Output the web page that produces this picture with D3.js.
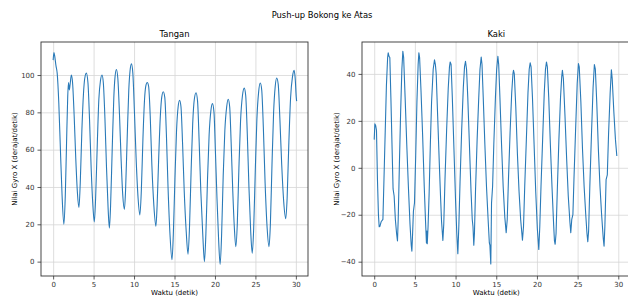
<!DOCTYPE html>
<html>
<head>
	<meta charset="utf-8">
	<title>Push-up Bokong ke Atas</title>
	<script src="https://cdn.jsdelivr.net/npm/d3@7"></script>
	<style>
		body{ margin: 0; background: #fff; }
		svg{ display: block; font-family: "DejaVu Sans", sans-serif; }
		.grid line{ stroke: #d6d6d6; stroke-width: 0.8; }
		.grid path{ display: none; }
		.axis path{ display: none; }
		.axis line{ stroke: #333; stroke-width: 0.8; }
		.axis text{ font-size: 7px; fill: #333; font-family: "DejaVu Sans", sans-serif; }
	</style>
</head>
<body>
	<script>
		// data: [waktu (detik), nilai gyro X]
		var tangan = [
			[0.0,108],[0.1,112],[0.2,110],[0.35,105],[0.5,101],[0.7,85],[0.9,60],[1.1,36],[1.33,20],
			[1.5,35],[1.65,62],[1.8,88],[1.9,96],[2.0,92],[2.1,95],[2.25,100],[2.4,96],[2.6,78],[2.8,55],[3.0,37],[3.19,29],
			[3.35,42],[3.55,70],[3.75,90],[3.9,98],[4.1,101],[4.3,96],[4.5,76],[4.7,50],[4.9,31],[5.09,21.3],
			[5.25,34],[5.45,62],[5.65,87],[5.85,97],[6.04,100],[6.2,96],[6.4,77],[6.6,50],[6.8,28],[6.95,18],
			[7.1,30],[7.3,60],[7.5,88],[7.65,99],[7.82,103],[8.0,98],[8.2,79],[8.4,55],[8.6,36],[8.81,28],
			[8.95,38],[9.15,66],[9.35,92],[9.5,102],[9.68,106],[9.85,101],[10.05,80],[10.25,56],[10.5,34],[10.72,25],
			[10.9,38],[11.1,66],[11.3,87],[11.45,94],[11.63,96],[11.8,94],[12.0,78],[12.2,52],[12.45,30],[12.7,19],
			[12.85,30],[13.05,56],[13.25,78],[13.42,88],[13.61,91],[13.8,88],[14.0,68],[14.2,40],[14.45,14],[14.69,1],
			[14.85,14],[15.05,44],[15.25,70],[15.45,83],[15.63,86.5],[15.8,83],[16.0,63],[16.2,38],[16.45,16],[16.67,4],
			[16.85,18],[17.05,48],[17.25,74],[17.45,87],[17.66,90.5],[17.85,86],[18.05,64],[18.25,38],[18.5,14],[18.7,0],
			[18.88,15],[19.08,44],[19.28,68],[19.5,81],[19.69,84.7],[19.88,80],[20.05,60],[20.25,34],[20.45,12],[20.64,-1.5],
			[20.82,14],[21.02,46],[21.22,70],[21.45,83],[21.64,87],[21.82,83],[22.0,64],[22.2,38],[22.4,18],[22.58,8],
			[22.76,20],[22.96,50],[23.16,75],[23.4,89],[23.62,93],[23.8,89],[24.0,68],[24.2,40],[24.42,16],[24.61,4.5],
			[24.78,17],[24.98,48],[25.18,76],[25.4,91],[25.6,95.7],[25.78,92],[25.98,72],[26.2,42],[26.45,18],[26.68,8],
			[26.85,20],[27.05,52],[27.25,80],[27.45,94],[27.63,98.4],[27.82,95],[28.02,77],[28.25,52],[28.5,32],[28.75,23],
			[28.92,34],[29.12,62],[29.35,88],[29.58,99],[29.78,102.5],[29.92,98],[30.05,88],[30.1,86]
		]
		var kaki = [
			[0.0,12],[0.08,18.7],[0.18,18],[0.28,16],[0.4,-5],[0.52,-20],[0.61,-25.1],[0.7,-25],[0.85,-23],[1.07,-22],
			[1.2,-5],[1.35,15],[1.5,35],[1.65,47],[1.72,49],[1.82,47.5],[1.92,47],[2.05,30],[2.2,8],[2.32,-9],[2.45,-12],
			[2.6,-22],[2.75,-28],[2.86,-31.2],[2.95,-22],[3.1,2],[3.25,24],[3.4,42],[3.52,49.6],[3.62,47],[3.8,30],
			[4.0,10],[4.2,-8],[4.4,-24],[4.55,-33],[4.63,-35.5],[4.72,-28],[4.82,-18.5],[4.95,-15],[5.1,5],[5.25,28],
			[5.4,44],[5.49,49],[5.58,47],[5.75,33],[5.95,14],[6.15,-8],[6.3,-22],[6.42,-32],[6.47,-27],[6.52,-32.3],
			[6.62,-25],[6.75,-11],[6.9,10],[7.05,28],[7.25,42],[7.41,46],[7.52,44],[7.62,40],[7.8,22],[8.0,2],
			[8.15,-12],[8.28,-23],[8.38,-28],[8.44,-31],[8.55,-24],[8.7,-5],[8.9,16],[9.1,34],[9.25,43],[9.34,45.1],
			[9.45,44],[9.6,30],[9.8,8],[10.0,-14],[10.15,-28],[10.28,-36.6],[10.4,-25],[10.55,-6],[10.75,16],[10.95,34],
			[11.1,43],[11.22,45.4],[11.35,42],[11.5,30],[11.7,10],[11.9,-10],[12.05,-22],[12.14,-25],[12.24,-33],[12.32,-28],
			[12.45,-10],[12.65,12],[12.85,30],[13.0,42],[13.15,47.2],[13.25,44],[13.4,30],[13.6,10],[13.8,-8],[14.0,-22],
			[14.15,-32],[14.22,-33],[14.33,-41],[14.42,-15],[14.55,-8],[14.7,10],[14.9,30],[15.05,42],[15.2,47.5],[15.3,44],
			[15.45,30],[15.65,10],[15.85,-8],[16.05,-21],[16.22,-27.7],[16.35,-22],[16.5,-5],[16.7,15],[16.9,32],[17.05,40],
			[17.12,41.5],[17.22,40],[17.4,26],[17.6,6],[17.8,-10],[18.0,-22],[18.15,-28],[18.22,-30.8],[18.35,-25],[18.5,-8],
			[18.7,12],[18.9,32],[19.05,42],[19.17,44.7],[19.28,43],[19.45,30],[19.65,10],[19.85,-10],[20.05,-26],[20.23,-34.8],
			[20.35,-25],[20.5,-8],[20.7,12],[20.9,32],[21.05,42],[21.17,45.1],[21.28,43],[21.45,30],[21.65,10],[21.85,-8],
			[22.05,-24],[22.15,-31],[22.24,-32.6],[22.35,-28],[22.5,-10],[22.7,12],[22.9,30],[23.05,39],[23.13,41.5],[23.25,38],
			[23.45,22],[23.65,4],[23.85,-12],[24.05,-23],[24.16,-27.7],[24.28,-22],[24.42,-20],[24.55,-5],[24.75,16],[24.95,36],
			[25.1,44.4],[25.2,43],[25.4,28],[25.6,8],[25.8,-8],[26.0,-20],[26.15,-28],[26.25,-31.5],[26.35,-27],[26.5,-8],
			[26.7,14],[26.9,34],[27.06,44],[27.18,42],[27.35,28],[27.55,8],[27.75,-8],[27.95,-20],[28.15,-30],[28.25,-33.4],
			[28.35,-25],[28.5,-5],[28.65,-3],[28.8,14],[29.0,32],[29.15,41.8],[29.25,38],[29.45,24],[29.65,12],[29.82,5]
		]
		var xTicks = [0, 5, 10, 15, 20, 25, 30]
		var tanganTicks = [0, 20, 40, 60, 80, 100]
		var kakiTicks = [-40, -20, 0, 20, 40]

		var width = 628, height = 296
		var svg = d3.select('body').append('svg')
					.attr('width', width)
					.attr('height', height)

		svg.append('text')
		   .attr('x', 322)
		   .attr('y', 18)
		   .attr('text-anchor', 'middle')
		   .style('font-size', '8.4px')
		   .text('Push-up Bokong ke Atas')

		function panel(opt){
			var x = d3.scaleLinear().domain([-1.5, 31.5]).range([opt.left, opt.right])
			var y = d3.scaleLinear().domain(opt.yDomain).range([opt.bottom, opt.top])
			var g = svg.append('g')

			g.append('g').attr('class', 'grid')
			 .attr('transform', 'translate(0,' + opt.bottom + ')')
			 .call(d3.axisBottom(x).tickValues(xTicks).tickSize(-(opt.bottom - opt.top)).tickFormat(''))
			g.append('g').attr('class', 'grid')
			 .attr('transform', 'translate(' + opt.left + ',0)')
			 .call(d3.axisLeft(y).tickValues(opt.yTicks).tickSize(-(opt.right - opt.left)).tickFormat(''))

			var line = d3.line().x(d => x(d[0])).y(d => y(d[1])).curve(opt.curve)
			g.append('path')
			 .datum(opt.data)
			 .attr('d', line)
			 .attr('fill', 'none')
			 .attr('stroke', '#2a7ab8')
			 .attr('stroke-width', 1.1)
			 .attr('stroke-linejoin', 'round')

			g.append('rect')
			 .attr('x', opt.left).attr('y', opt.top)
			 .attr('width', opt.right - opt.left).attr('height', opt.bottom - opt.top)
			 .attr('fill', 'none').attr('stroke', '#333').attr('stroke-width', 0.9)

			g.append('g').attr('class', 'axis')
			 .attr('transform', 'translate(0,' + opt.bottom + ')')
			 .call(d3.axisBottom(x).tickValues(xTicks).tickSize(3.5).tickPadding(3))
			g.append('g').attr('class', 'axis')
			 .attr('transform', 'translate(' + opt.left + ',0)')
			 .call(d3.axisLeft(y).tickValues(opt.yTicks).tickSize(3.5).tickPadding(3))

			g.append('text')
			 .attr('x', (opt.left + opt.right) / 2)
			 .attr('y', 37)
			 .attr('text-anchor', 'middle')
			 .style('font-size', '8.4px')
			 .text(opt.title)
			g.append('text')
			 .attr('x', (opt.left + opt.right) / 2)
			 .attr('y', 294.5)
			 .attr('text-anchor', 'middle')
			 .style('font-size', '7px')
			 .text('Waktu (detik)')
			g.append('text')
			 .attr('transform', 'translate(' + opt.labelX + ',' + (opt.top + opt.bottom) / 2 + ') rotate(-90)')
			 .attr('text-anchor', 'middle')
			 .style('font-size', '7px')
			 .text('Nilai Gyro X (derajat/detik)')
		}

		panel({ title: 'Tangan', data: tangan, left: 41, right: 308, top: 42, bottom: 276,
				yDomain: [-7.7, 117.7], yTicks: tanganTicks, labelX: 17, curve: d3.curveMonotoneX })
		panel({ title: 'Kaki', data: kaki, left: 362, right: 630.5, top: 42, bottom: 276,
				yDomain: [-46.1, 53.6], yTicks: kakiTicks, labelX: 339, curve: d3.curveLinear })
	</script>
</body>
</html>
